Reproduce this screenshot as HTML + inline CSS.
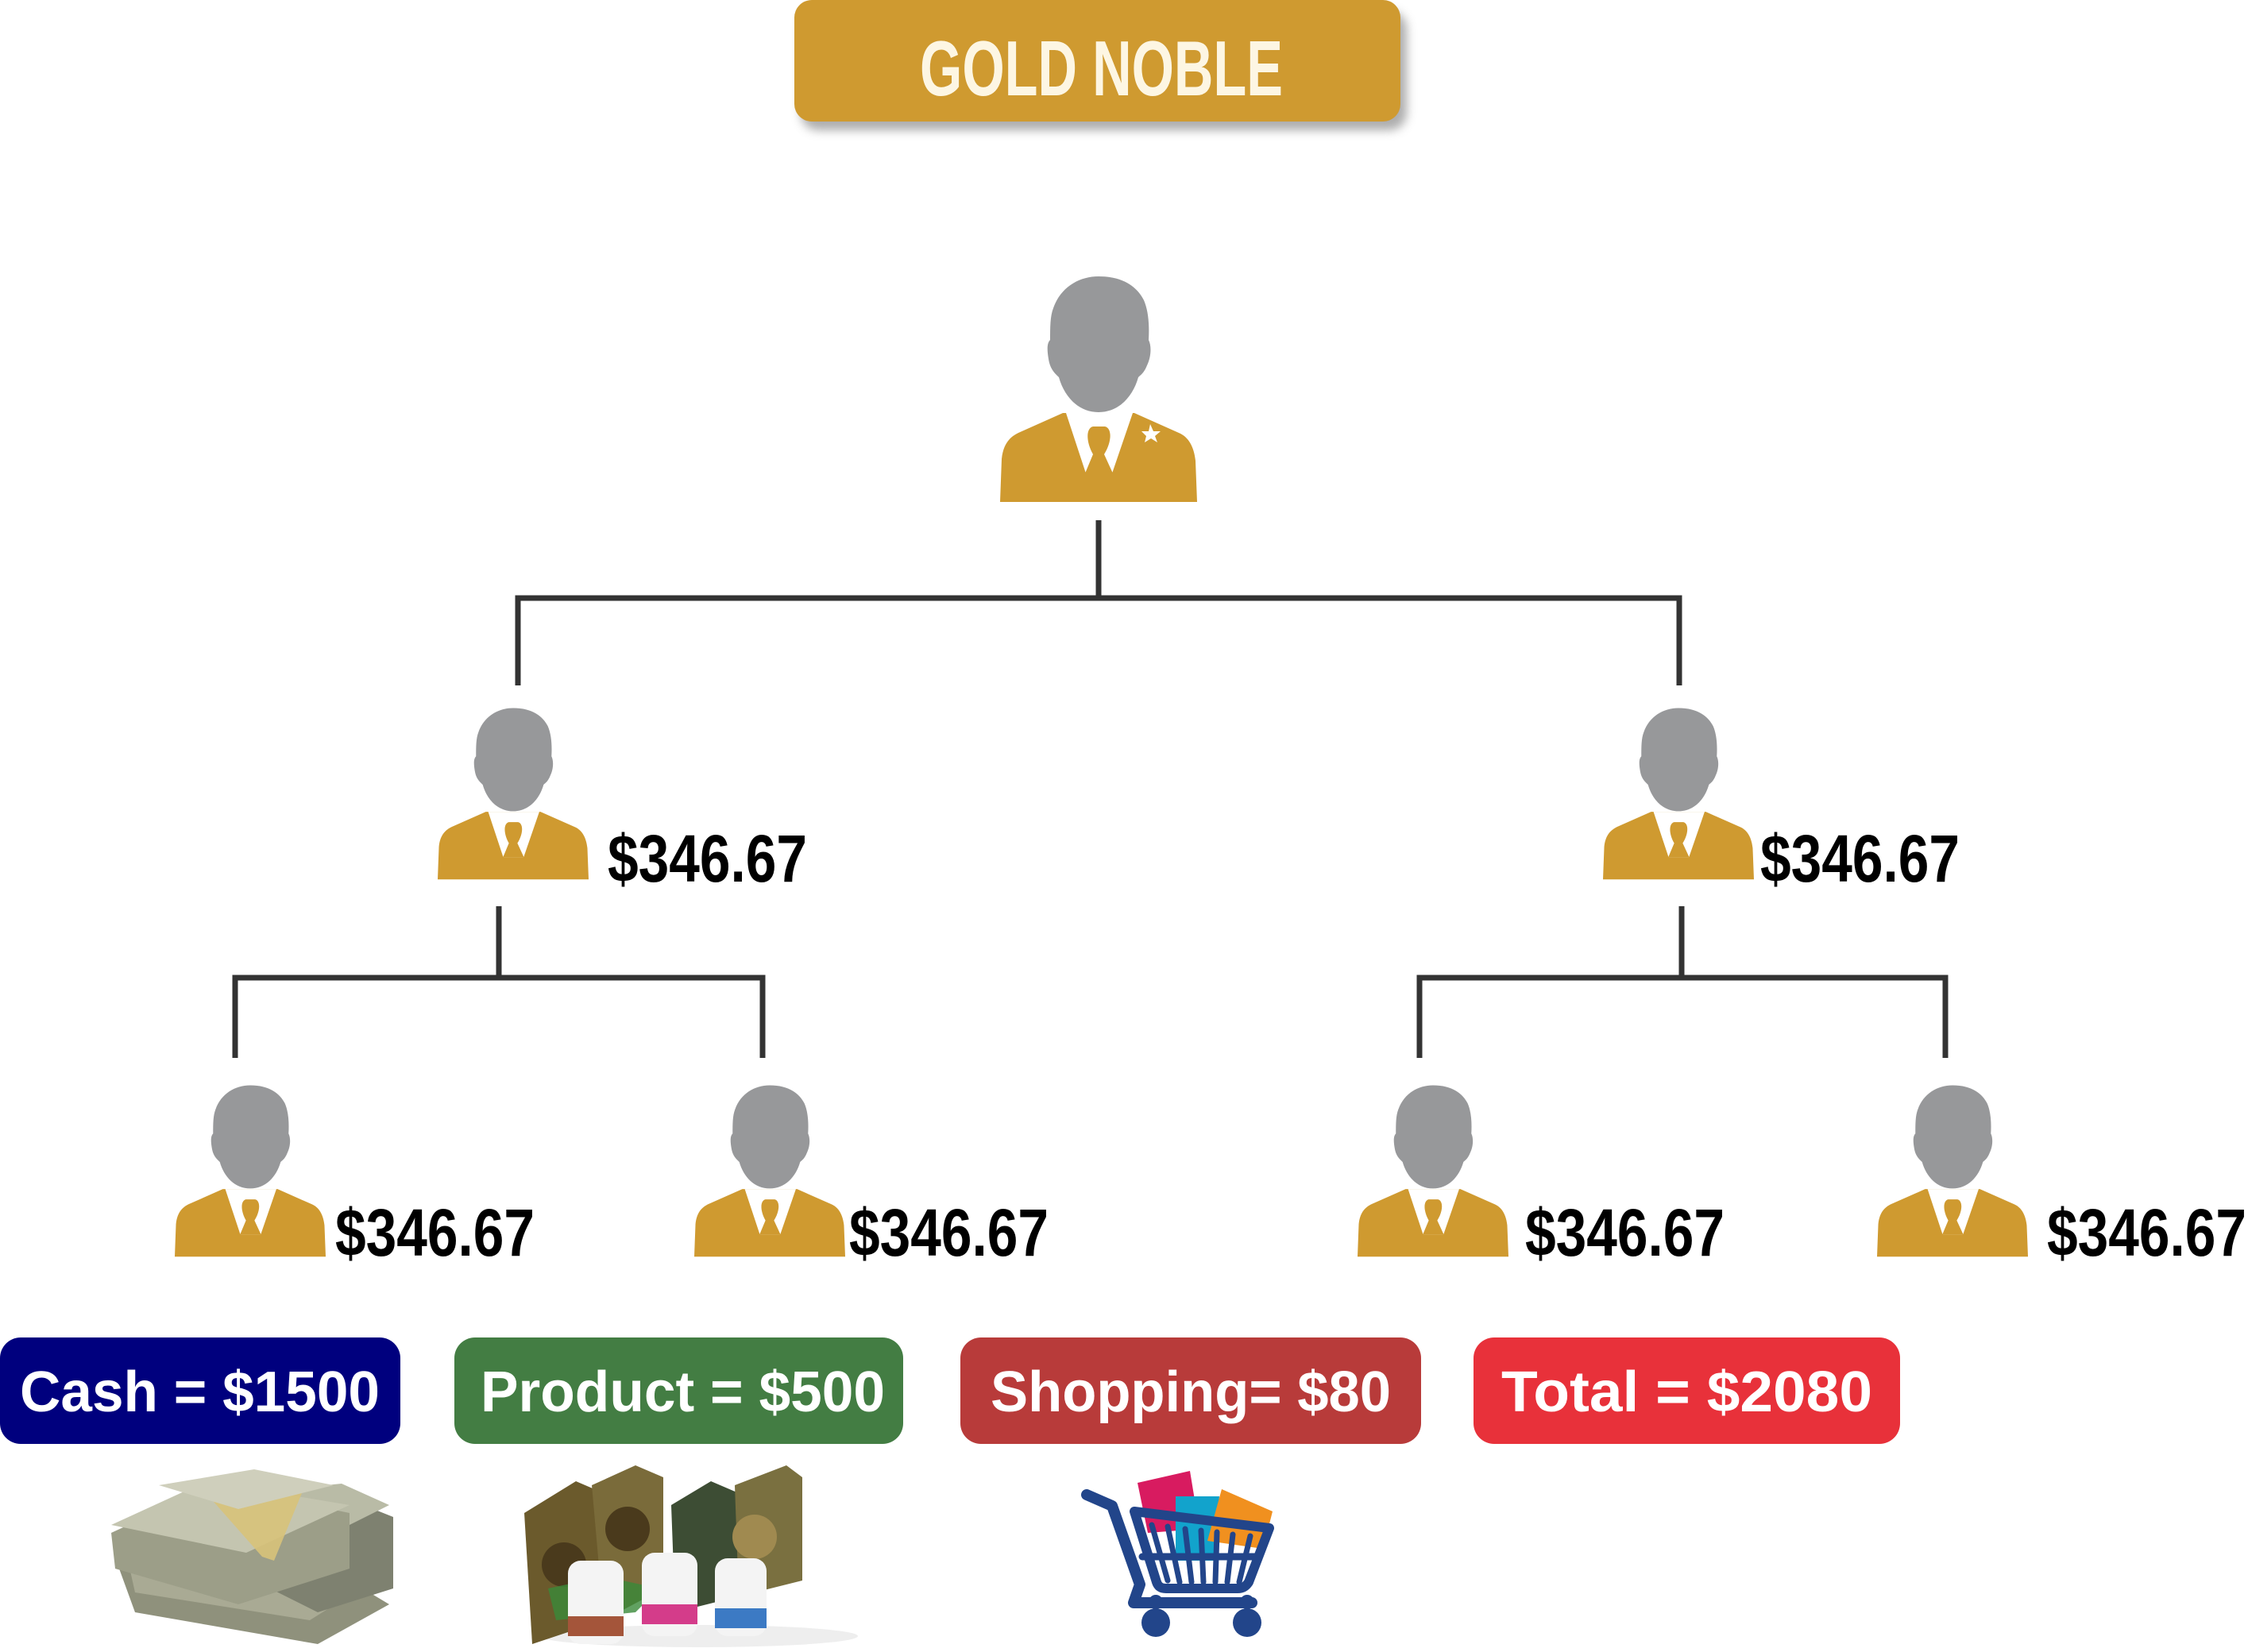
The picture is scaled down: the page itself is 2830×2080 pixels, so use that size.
<!DOCTYPE html>
<html><head><meta charset="utf-8"><style>
html,body{margin:0;padding:0;background:#fff;width:2830px;height:2080px;overflow:hidden}
svg{display:block}
</style></head><body>
<svg width="2830" height="2080" viewBox="0 0 2830 2080" xmlns="http://www.w3.org/2000/svg">
<defs>
<filter id="sh" x="-10%" y="-20%" width="120%" height="160%"><feGaussianBlur stdDeviation="6"/></filter>
<symbol id="p" viewBox="59 46 248 287" preserveAspectRatio="none">
<path fill="#97989a" d="M183 48 C215 48 232 62 240 78 C246 92 247 110 246 128 C250 136 249 150 244 160 C240 170 236 172 233 175 C226 200 208 219 183 219 C158 219 140 200 133 175 C128 170 122 165 120 152 C118 140 118 132 122 128 C122 112 122 98 126 88 C135 62 158 48 183 48 Z"/>
<path fill="#cf9a30" d="M59 332 L61 278 C63 258 72 250 82 245 L138 220 L228 220 L284 245 C296 250 303 262 305 280 L307 332 Z"/>
<path fill="#fff" d="M142 220 L226 220 L200 296 L167 296 Z"/>
<path fill="#cf9a30" d="M176 237 L191 237 C200 239 200 256 190 272 L201 296 L166 296 L176 272 C167 256 167 239 176 237 Z"/>
</symbol>
</defs>

<!-- title -->
<rect x="1008" y="14" width="763" height="150" rx="22" fill="#999" filter="url(#sh)" opacity="0.8"/>
<rect x="1000" y="0" width="763" height="153" rx="22" fill="#cf9a30"/>
<text x="1158" y="120" textLength="457" lengthAdjust="spacingAndGlyphs" font-family="Liberation Sans, sans-serif" font-weight="bold" font-size="98" fill="#fdf6e3">GOLD NOBLE</text>

<!-- connectors -->
<g stroke="#333" stroke-width="7" fill="none">
<path d="M1383 655 V753 M652 863 V753 H2114 V863"/>
<path d="M628 1141 V1231 M296 1332 V1231 H960 V1332"/>
<path d="M2117 1141 V1231 M1787 1332 V1231 H2449 V1332"/>
</g>

<!-- people -->
<use href="#p" x="1259" y="346" width="248" height="287"/>
<path fill="#fff" d="M1448 534 L1452 543 L1461 543 L1454 549 L1457 557 L1449 552 L1441 557 L1443 549 L1437 543 L1446 543 Z"/>
<use href="#p" x="551" y="890" width="190" height="218"/>
<use href="#p" x="2018" y="890" width="190" height="218"/>
<use href="#p" x="220" y="1365" width="190" height="218"/>
<use href="#p" x="874" y="1365" width="190" height="218"/>
<use href="#p" x="1709" y="1365" width="190" height="218"/>
<use href="#p" x="2363" y="1365" width="190" height="218"/>

<g font-family="Liberation Sans, sans-serif" font-weight="bold" font-size="84" fill="#000">
<text x="765" y="1110" textLength="251" lengthAdjust="spacingAndGlyphs">$346.67</text>
<text x="2216" y="1110" textLength="251" lengthAdjust="spacingAndGlyphs">$346.67</text>
<text x="422" y="1581" textLength="251" lengthAdjust="spacingAndGlyphs">$346.67</text>
<text x="1069" y="1581" textLength="251" lengthAdjust="spacingAndGlyphs">$346.67</text>
<text x="1920" y="1581" textLength="251" lengthAdjust="spacingAndGlyphs">$346.67</text>
<text x="2577" y="1581" textLength="251" lengthAdjust="spacingAndGlyphs">$346.67</text>
</g>

<!-- boxes -->
<rect x="0" y="1684" width="504" height="134" rx="26" fill="#00007e"/>
<rect x="572" y="1684" width="565" height="134" rx="26" fill="#437d43"/>
<rect x="1209" y="1684" width="580" height="134" rx="26" fill="#b83b3a"/>
<rect x="1855" y="1684" width="537" height="134" rx="26" fill="#e8313a"/>
<g font-family="Liberation Sans, sans-serif" font-weight="bold" font-size="72" fill="#fff">
<text x="25" y="1777" textLength="453" lengthAdjust="spacingAndGlyphs">Cash = $1500</text>
<text x="605" y="1777" textLength="509" lengthAdjust="spacingAndGlyphs">Product = $500</text>
<text x="1247" y="1777" textLength="504" lengthAdjust="spacingAndGlyphs">Shopping= $80</text>
<text x="1890" y="1777" textLength="467" lengthAdjust="spacingAndGlyphs">Total =  $2080</text>
</g>

<!-- money -->
<g>
<path fill="#8f917c" d="M150 1975 L230 1935 L440 1990 L490 2020 L400 2070 L170 2030 Z"/>
<path fill="#a9aa94" d="M160 1960 L240 1920 L440 1975 L470 1990 L390 2040 L170 2005 Z"/>
<path fill="#7e8170" d="M300 1890 L420 1880 L495 1910 L495 2000 L400 2030 L320 1990 Z"/>
<path fill="#b9bba6" d="M310 1880 L430 1868 L490 1895 L400 1940 L330 1925 Z"/>
<path fill="#9c9e88" d="M140 1930 L270 1870 L440 1905 L440 1975 L300 2020 L145 1975 Z"/>
<path fill="#c4c5b0" d="M140 1920 L260 1865 L440 1895 L310 1955 Z"/>
<path fill="#d8c27a" d="M255 1875 L300 1868 L380 1880 L345 1965 L330 1960 Z" opacity="0.9"/>
<path fill="#cfcfbc" d="M200 1870 L320 1850 L420 1870 L300 1900 Z"/>
</g>

<!-- products -->
<g>
<ellipse cx="880" cy="2060" rx="200" ry="14" fill="#eee"/>
<path fill="#6b5a2c" d="M660 1905 L725 1865 L760 1880 L760 2040 L670 2070 Z"/>
<path fill="#7a6b3a" d="M745 1870 L800 1845 L835 1860 L835 2000 L760 2040 Z"/>
<path fill="#3d4d34" d="M845 1895 L895 1865 L930 1880 L930 2010 L850 2030 Z"/>
<path fill="#7a7040" d="M925 1870 L990 1845 L1010 1860 L1010 1990 L930 2010 Z"/>
<circle cx="710" cy="1970" r="28" fill="#4a3a1c"/>
<circle cx="790" cy="1925" r="28" fill="#4a3a1c"/>
<circle cx="950" cy="1935" r="28" fill="#a08a50"/>
<path fill="#3a8a3a" d="M690 2000 L760 1985 L830 2000 L800 2030 L700 2040 Z" opacity="0.8"/>
<rect x="715" y="1965" width="70" height="105" rx="16" fill="#f4f4f4"/>
<rect x="715" y="2035" width="70" height="25" fill="#a4553a"/>
<rect x="808" y="1955" width="70" height="105" rx="16" fill="#f4f4f4"/>
<rect x="808" y="2020" width="70" height="25" fill="#d43c8a"/>
<rect x="900" y="1962" width="65" height="98" rx="16" fill="#f4f4f4"/>
<rect x="900" y="2025" width="65" height="25" fill="#3c7ac4"/>
</g>

<!-- cart -->
<g transform="translate(1340,1830)">
<path fill="#d81b60" d="M92 37 L158 22 L170 95 L105 100 Z"/>
<path fill="#12a3cc" d="M140 54 L195 54 L190 135 L140 135 Z"/>
<path fill="#f0901f" d="M198 45 L262 73 L250 120 L180 110 Z"/>
<g fill="none" stroke="#22458a" stroke-linecap="round" stroke-linejoin="round">
<path d="M28 52 L60 66 L95 165 L87 188 L236 188" stroke-width="14"/>
<path d="M88 73 L258 94 L232 162 C228 168 224 170 218 170 L128 170 C122 170 118 168 116 162 Z" stroke-width="12"/>
<path d="M98 130 L245 130" stroke-width="9"/>
<path d="M110 90 L130 160 M130 92 L145 162 M152 95 L160 162 M172 97 L175 162 M192 99 L190 162 M212 102 L205 162 M234 104 L220 162" stroke-width="7"/>
</g>
<circle cx="115" cy="213" r="18" fill="#22458a"/>
<circle cx="230" cy="213" r="18" fill="#22458a"/>
<circle cx="115" cy="187" r="9" fill="#22458a"/>
<circle cx="230" cy="187" r="9" fill="#22458a"/>
</g>
</svg>
</body></html>
